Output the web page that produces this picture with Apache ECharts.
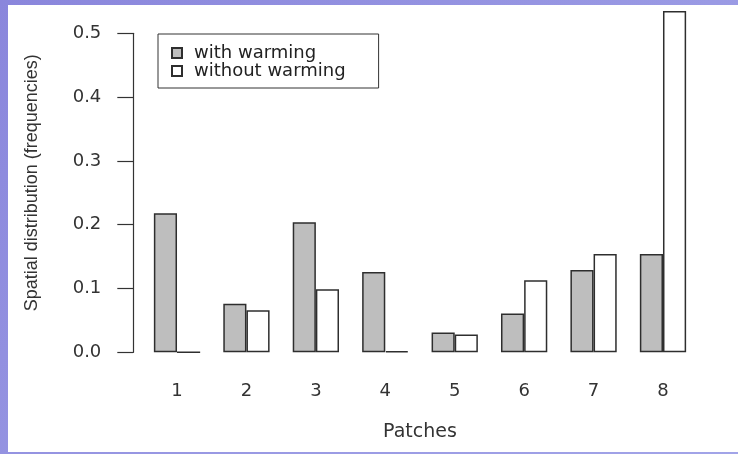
<!DOCTYPE html>
<html>
<head>
<meta charset="utf-8">
<script src="https://cdn.jsdelivr.net/npm/echarts@6/dist/echarts.min.js"></script>
<style>
  html, body { margin: 0; padding: 0; }
  body { width: 738px; height: 454px; background: linear-gradient(135deg, #8a86dc 0%, #9a9ae4 60%, #a2a4e8 100%); position: relative; overflow: hidden; }
  #paper { position: absolute; left: 8px; top: 5px; width: 730px; height: 447px; background: #ffffff; }
  #chart { position: absolute; left: 0; top: 0; width: 738px; height: 454px; }
</style>
</head>
<body>
<div id="paper"></div>
<div id="chart"></div>
<script>
const patches = ['1', '2', '3', '4', '5', '6', '7', '8'];
const withWarming = [0.218, 0.076, 0.204, 0.126, 0.031, 0.061, 0.129, 0.154];
const withoutWarming = [0, 0.066, 0.099, 0.002, 0.028, 0.113, 0.154, 0.535];
const seriesNames = ['with warming', 'without warming'];
const xTitle = 'Patches';
const yTitle = 'Spatial distribution (frequencies)';

const chart = echarts.init(document.getElementById('chart'), null, { renderer: 'canvas' });
const txt = '#333333';
const option = {
  backgroundColor: 'transparent',
  animation: false,
  grid: { left: 142.3, right: 40.3, top: 33.3, bottom: 101.7, containLabel: false },
  legend: {
    orient: 'vertical',
    left: 158,
    top: 34,
    itemWidth: 10,
    itemHeight: 10,
    itemGap: 0,
    icon: 'rect',
    padding: [10, 33, 8, 13],
    borderColor: '#333333',
    borderWidth: 1,
    backgroundColor: '#ffffff',
    textStyle: { fontFamily: 'DejaVu Sans', fontSize: 18, color: '#222222', lineHeight: 16, height: 16, padding: [0, 0, 0, 7] },
    data: seriesNames
  },
  xAxis: {
    type: 'category',
    data: patches,
    axisLine: { show: false },
    axisTick: { show: false },
    axisLabel: { margin: 30, fontFamily: 'DejaVu Sans', fontSize: 18, color: txt },
    name: xTitle,
    nameLocation: 'middle',
    nameGap: 70,
    nameTextStyle: { fontFamily: 'DejaVu Sans', fontSize: 19, color: txt }
  },
  yAxis: {
    type: 'value',
    min: 0,
    max: 0.5,
    interval: 0.1,
    offset: 9,
    splitLine: { show: false },
    axisLine: { show: true, lineStyle: { color: '#333333', width: 1.2 } },
    axisTick: { show: true, length: 16, lineStyle: { color: '#333333', width: 1.2 } },
    axisLabel: { margin: 32, fontFamily: 'DejaVu Sans', fontSize: 18, color: txt, formatter: v => v.toFixed(1) },
    name: yTitle,
    nameLocation: 'middle',
    nameGap: 92,
    nameRotate: 90,
    nameTextStyle: { fontFamily: 'Liberation Sans', fontSize: 18, color: txt, padding: [0, 0, 0, 20] }
  },
  series: [
    {
      name: seriesNames[0],
      type: 'bar',
      data: withWarming,
      barGap: '0%',
      barCategoryGap: '33.33%',
      clip: false,
      itemStyle: { color: '#bebebe', borderColor: '#2e2e2e', borderWidth: 1.5 }
    },
    {
      name: seriesNames[1],
      type: 'bar',
      data: withoutWarming,
      barGap: '0%',
      barCategoryGap: '33.33%',
      clip: false,
      itemStyle: { color: '#ffffff', borderColor: '#2e2e2e', borderWidth: 1.5 }
    }
  ]
};
chart.setOption(option);
</script>
</body>
</html>
